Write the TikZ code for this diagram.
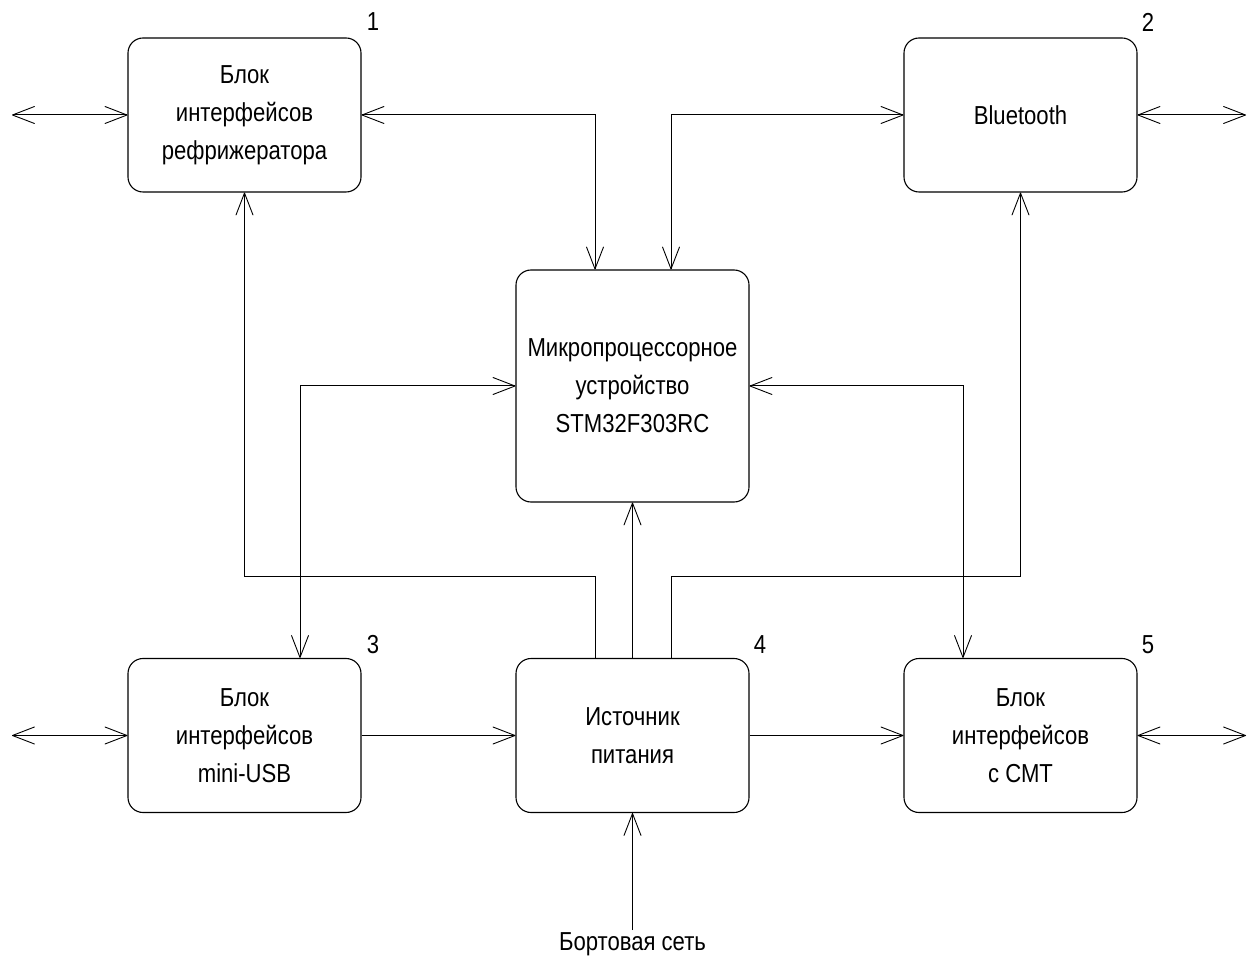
\documentclass[tikz,border=0pt]{standalone}
\usepackage{fontspec}
\setmainfont{Liberation Sans}[FakeStretch=0.85]
\usetikzlibrary{arrows.meta}
\begin{document}
\begin{tikzpicture}[x=1pt,y=-1pt,
  blk/.style={draw, line width=1.1pt, rounded corners=15pt, minimum width=233pt, minimum height=154pt, align=center, font=\fontsize{26}{38}\selectfont, inner sep=0pt},
  conn/.style={line width=1pt, arrows={-}},
  tip/.tip={Straight Barb[length=22pt,width=17pt,line width=0.9pt,round]},
  numlbl/.style={font=\fontsize{26}{30}\selectfont, inner sep=0pt}]
\useasboundingbox (0,0) rectangle (1248,957);
\node[blk] (b1) at (244.5,115) {Блок\\интерфейсов\\рефрижератора};
\node[blk] (b2) at (1020.5,115) {Bluetooth};
\node[blk, minimum height=232pt] (mcu) at (632.5,386) {Микропроцессорное\\устройство\\STM32F303RC};
\node[blk] (b3) at (244.5,735.5) {Блок\\интерфейсов\\mini-USB};
\node[blk] (psu) at (632.5,735.5) {Источник\\питания};
\node[blk] (b5) at (1020.5,735.5) {Блок\\интерфейсов\\с СМТ};
\node[numlbl] (n1) at (373,22) {1};
\node[numlbl] (n2) at (1148,22) {2};
\node[numlbl] (n3) at (373,645) {3};
\node[numlbl] (n4) at (760,645) {4};
\node[numlbl] (n5) at (1148,645) {5};
\node[numlbl] (netlbl) at (632.5,944) {Бортовая сеть};
\coordinate (e1) at (12,115);
\coordinate (e2) at (1246,115);
\coordinate (e3) at (12,735.5);
\coordinate (e5) at (1246,735.5);
\coordinate (net) at (632.5,930);
\coordinate (busL) at (244.5,576);
\coordinate (busR) at (1020.5,576);
\draw[conn, tip-tip] (e1) -- (b1.west);
\draw[conn, tip-tip] (b2.east) -- (e2);
\draw[conn, tip-tip] (e3) -- (b3.west);
\draw[conn, tip-tip] (b5.east) -- (e5);
\draw[conn, tip-tip] (b1.east) -| ([xshift=-37.5pt]mcu.north);
\draw[conn, tip-tip] ([xshift=38.5pt]mcu.north) |- (b2.west);
\draw[conn, -tip] ([xshift=-37.5pt]psu.north) |- (busL) -- (b1.south);
\draw[conn, -tip] ([xshift=38.5pt]psu.north) |- (busR) -- (b2.south);
\draw[conn, -tip] (psu.north) -- (mcu.south);
\draw[conn, tip-tip] (mcu.west) -| ([xshift=55.5pt]b3.north);
\draw[conn, tip-tip] (mcu.east) -| ([xshift=-57.5pt]b5.north);
\draw[conn, -tip] (b3.east) -- (psu.west);
\draw[conn, -tip] (psu.east) -- (b5.west);
\draw[conn, -tip] (net) -- (psu.south);
\end{tikzpicture}
\end{document}
